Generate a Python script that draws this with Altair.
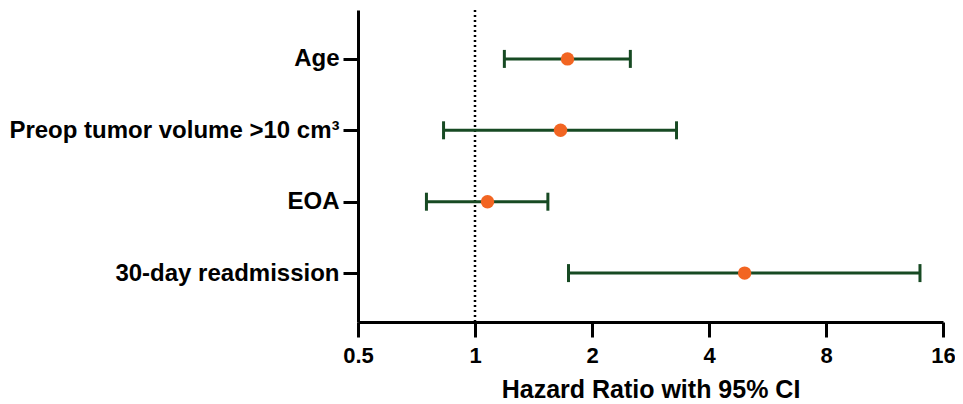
import altair as alt
import pandas as pd

labels = ["Age", "Preop tumor volume >10 cm³", "EOA", "30-day readmission"]
hr = [1.73, 1.66, 1.077, 4.94]
lower = [1.19, 0.83, 0.75, 1.74]
upper = [2.51, 3.30, 1.54, 13.96]
x_ticks = [0.5, 1, 2, 4, 8, 16]
ref_value = [1]

df = pd.DataFrame({"label": labels, "hr": hr, "lo": lower, "hi": upper})
ref = pd.DataFrame({"x": ref_value})

FONT = "Liberation Sans"
GREEN = "#174a23"
ORANGE = "#f26522"

xscale = alt.Scale(type="log", base=2, domain=[0.5, 16], nice=False)
yenc = alt.Y("label:N", sort=labels, scale=alt.Scale(type="point", padding=0.685),
             axis=alt.Axis(title=None, domainColor="black", domainWidth=3, tickColor="black",
                           tickWidth=3, tickSize=15, labelFont=FONT, labelFontSize=24,
                           labelFontWeight="bold", labelColor="black", labelPadding=4,
                           labelLimit=0, grid=False))
xaxis = alt.Axis(title="Hazard Ratio with 95% CI", values=x_ticks, format="~g",
                 domainColor="black", domainWidth=3, tickColor="black", tickWidth=3,
                 tickSize=15, labelFont=FONT, labelFontSize=22, labelFontWeight="bold",
                 labelColor="black", labelPadding=8, titleFont=FONT, titleFontSize=25,
                 titleFontWeight="bold", titleColor="black", titlePadding=11, grid=False,
                 labelFlush=False)

base = alt.Chart(df)

refline = alt.Chart(ref).mark_rule(color="black", strokeWidth=2.5, strokeDash=[2, 3]).encode(
    x=alt.X("x:Q", scale=xscale, axis=xaxis)
)

rule = base.mark_rule(color=GREEN, strokeWidth=3).encode(
    x=alt.X("lo:Q", scale=xscale, axis=xaxis), x2="hi:Q", y=yenc
)
cap_lo = base.mark_tick(color=GREEN, orient="vertical", size=18, thickness=3, opacity=1).encode(
    x=alt.X("lo:Q", scale=xscale), y=yenc
)
cap_hi = base.mark_tick(color=GREEN, orient="vertical", size=18, thickness=3, opacity=1).encode(
    x=alt.X("hi:Q", scale=xscale), y=yenc
)
pts = base.mark_circle(color=ORANGE, opacity=1, size=180).encode(
    x=alt.X("hr:Q", scale=xscale), y=yenc
)

chart = alt.layer(refline, rule, cap_lo, cap_hi, pts).properties(
    width=585, height=312,
    autosize=alt.AutoSizeParams(type="none"),
    padding={"left": 350, "top": 2, "right": 12, "bottom": 80},
).configure(background="white").configure_view(stroke=None, strokeWidth=0)

chart.save("out.html", embed_options={"renderer": "svg", "actions": False})
